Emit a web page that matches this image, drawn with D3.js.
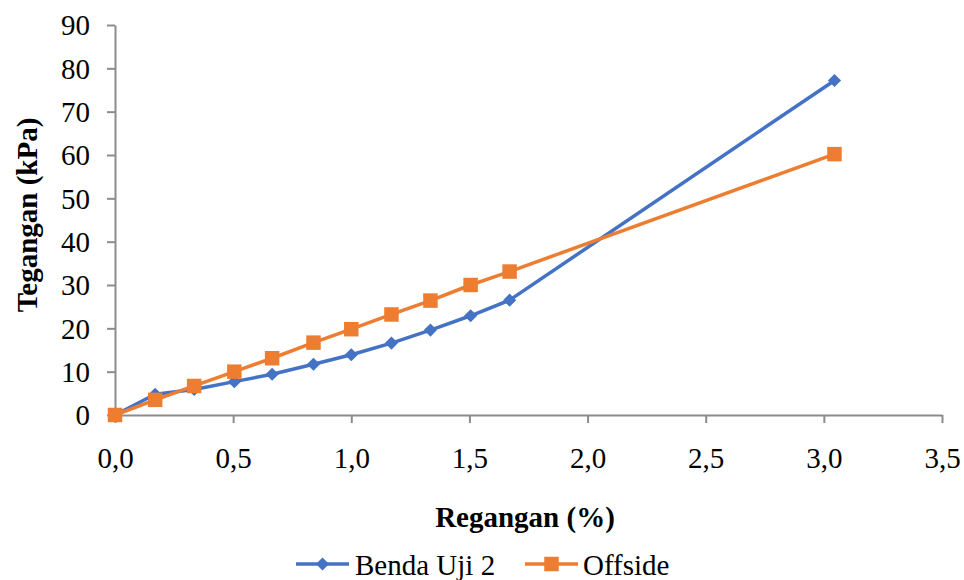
<!DOCTYPE html>
<html>
<head>
<meta charset="utf-8">
<script src="https://cdn.jsdelivr.net/npm/d3@7"></script>
<style>
  body { margin: 0; background: #fff; }
  svg { display: block; font-family: "Liberation Serif", "Times New Roman", serif; }
</style>
</head>
<body>
<div id="chart"></div>
<script>
// strain (%) readings, shared by both series
var regangan = [0, 0.17, 0.335, 0.505, 0.665, 0.84, 1.0, 1.17, 1.335, 1.505, 1.67, 3.045];
var bendaUji2 = [0, 4.8, 5.9, 7.7, 9.4, 11.7, 13.9, 16.6, 19.6, 22.9, 26.5, 77.2];
var offside = [0, 3.5, 6.7, 10.0, 13.1, 16.7, 19.8, 23.2, 26.4, 30.0, 33.1, 60.2];
var xTicks = [0, 0.5, 1, 1.5, 2, 2.5, 3, 3.5];
var yTicks = [0, 10, 20, 30, 40, 50, 60, 70, 80, 90];

var W = 964, H = 580;
var plotLeft = 115, plotRight = 942, plotTop = 25, plotBottom = 415;
var axisColor = "#8c8c8c";

var svg = d3.select("#chart").append("svg")
    .attr("width", W)
    .attr("height", H);

var x = d3.scaleLinear().domain([0, 3.5]).range([plotLeft, plotRight]);
var y = d3.scaleLinear().domain([0, 90]).range([plotBottom, plotTop]);

var fmt = function (d) { return d3.format(".1f")(d).replace(".", ","); };

// x axis
var xAxis = svg.append("g")
    .attr("transform", "translate(0," + plotBottom + ")")
    .call(d3.axisBottom(x).tickValues(xTicks).tickSize(8).tickSizeOuter(0).tickFormat(fmt));
xAxis.select(".domain").attr("stroke", axisColor).attr("stroke-width", 2);
xAxis.selectAll(".tick line").attr("stroke", axisColor).attr("stroke-width", 2);
xAxis.selectAll(".tick text")
    .attr("y", 53)
    .attr("dy", 0)
    .attr("fill", "#000")
    .style("font-size", "29px")
    .style("font-family", "Liberation Serif, serif");

// y axis
var yAxis = svg.append("g")
    .attr("transform", "translate(" + plotLeft + ",0)")
    .call(d3.axisLeft(y).tickValues(yTicks).tickSize(8).tickSizeOuter(0));
yAxis.select(".domain").attr("stroke", axisColor).attr("stroke-width", 2);
yAxis.selectAll(".tick line").attr("stroke", axisColor).attr("stroke-width", 2);
yAxis.selectAll(".tick text")
    .attr("x", -25)
    .attr("dy", "0.34em")
    .attr("fill", "#000")
    .style("font-size", "29px")
    .style("font-family", "Liberation Serif, serif");

// axis titles
svg.append("text")
    .attr("x", 525)
    .attr("y", 527)
    .attr("text-anchor", "middle")
    .style("font-size", "29px")
    .style("font-weight", "bold")
    .text("Regangan (%)");

svg.append("text")
    .attr("transform", "translate(37,215) rotate(-90)")
    .attr("text-anchor", "middle")
    .style("font-size", "29px")
    .style("font-weight", "bold")
    .text("Tegangan (kPa)");

// series
var series = [
    { name: "Benda Uji 2", values: bendaUji2, color: "#4472C4", marker: "diamond" },
    { name: "Offside", values: offside, color: "#ED7D31", marker: "square" }
];

var line = d3.line()
    .x(function (d) { return x(d[0]); })
    .y(function (d) { return y(d[1]); });

function markerPath(type) {
    if (type === "diamond") return d3.symbol().type(d3.symbolDiamond2).size(110)();
    return d3.symbol().type(d3.symbolSquare).size(210)();
}

series.forEach(function (s) {
    var pts = regangan.map(function (r, i) { return [r, s.values[i]]; });
    svg.append("path")
        .datum(pts)
        .attr("d", line)
        .attr("fill", "none")
        .attr("stroke", s.color)
        .attr("stroke-width", 3.5)
        .attr("stroke-linejoin", "round");
    svg.append("g").selectAll("path")
        .data(pts)
        .enter()
        .append("path")
        .attr("d", markerPath(s.marker))
        .attr("transform", function (d) { return "translate(" + x(d[0]) + "," + y(d[1]) + ")"; })
        .attr("fill", s.color);
});

// legend
var legendItems = [
    { x0: 296, tx: 355 },
    { x0: 525, tx: 583 }
];
series.forEach(function (s, i) {
    var g = svg.append("g");
    var lx = legendItems[i].x0, ly = 564;
    g.append("line")
        .attr("x1", lx).attr("x2", lx + 53)
        .attr("y1", ly).attr("y2", ly)
        .attr("stroke", s.color)
        .attr("stroke-width", 3.5);
    g.append("path")
        .attr("d", markerPath(s.marker))
        .attr("transform", "translate(" + (lx + 26.5) + "," + ly + ")")
        .attr("fill", s.color);
    g.append("text")
        .attr("x", legendItems[i].tx)
        .attr("y", 575)
        .style("font-size", "29px")
        .text(s.name);
});
</script>
</body>
</html>
